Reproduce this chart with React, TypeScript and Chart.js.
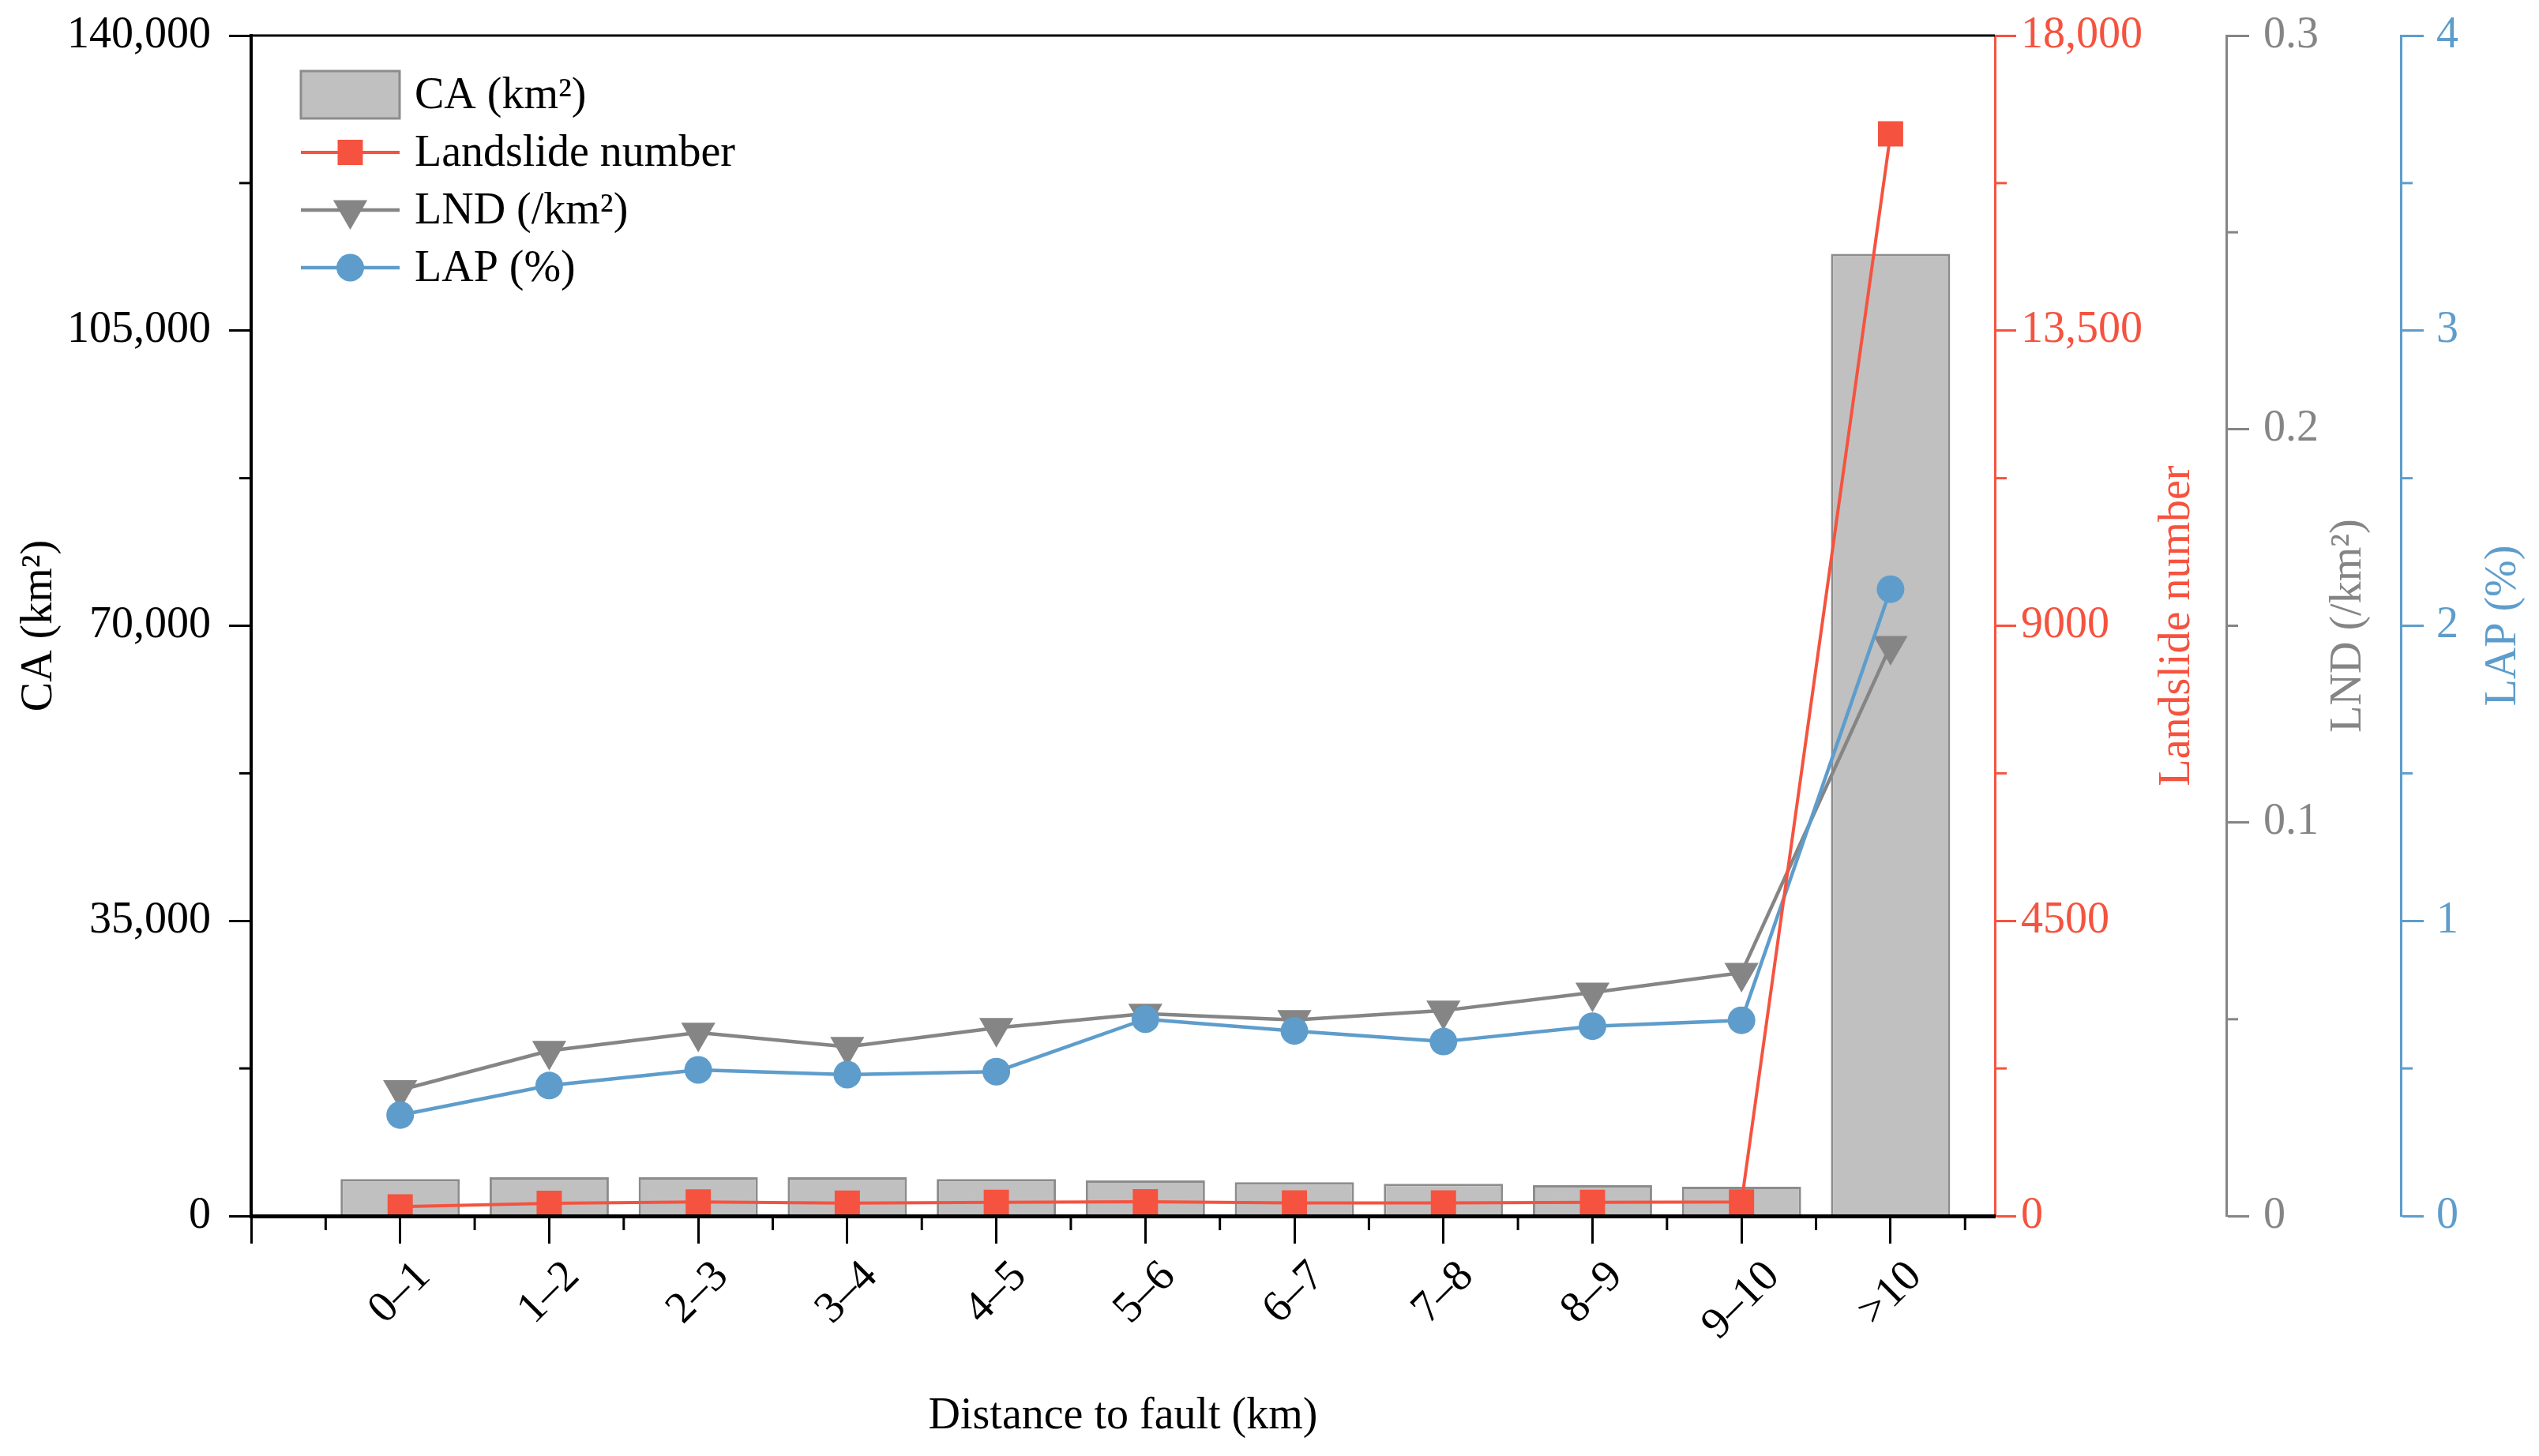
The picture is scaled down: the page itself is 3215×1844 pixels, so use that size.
import React, { useEffect, useRef } from 'react';
import { Chart, registerables } from 'chart.js';

Chart.register(...registerables);

// ---------------- data ----------------
const categories = ['0–1', '1–2', '2–3', '3–4', '4–5', '5–6', '6–7', '7–8', '8–9', '9–10', '>10'];
const caValues = [4370, 4590, 4590, 4590, 4370, 4210, 4000, 3810, 3650, 3460, 114100];
const landslideNumber = [140, 193, 214, 197, 209, 216, 199, 199, 207, 214, 16500];
const lndValues = [0.032, 0.042, 0.0466, 0.043, 0.0478, 0.0514, 0.0498, 0.0522, 0.0568, 0.0618, 0.1449];
const lapValues = [0.342, 0.442, 0.495, 0.479, 0.489, 0.667, 0.627, 0.591, 0.643, 0.663, 2.124];

const caTitle = 'CA (km²)';
const nTitle = 'Landslide number';
const lndTitle = 'LND (/km²)';
const lapTitle = 'LAP (%)';
const xTitle = 'Distance to fault (km)';

// ---------------- style ----------------
const W = 3215;
const H = 1844;
const FONT = '"Liberation Serif", "Times New Roman", serif';
const FS = 56;
const RED = '#F5533F';
const GRAY = '#858585';
const BLUE = '#5E9DCB';
const BAR_FILL = '#C0C0C0';
const BAR_EDGE = '#8C8C8C';

const pts = (vals: number[]) => vals.map((v, i) => ({ x: i + 1, y: v }));

function drawMarker(ctx: CanvasRenderingContext2D, style: string, x: number, y: number, r: number, color: string) {
  ctx.save();
  ctx.fillStyle = color;
  ctx.beginPath();
  if (style === 'rect') {
    const s = Math.SQRT1_2 * r;
    ctx.rect(x - s, y - s, 2 * s, 2 * s);
  } else if (style === 'tri') {
    const a0 = Math.PI;
    for (let k = 0; k < 3; k++) {
      const a = a0 + (k * 2 * Math.PI) / 3;
      const px = x + Math.sin(a) * r;
      const py = y - Math.cos(a) * r;
      if (k === 0) ctx.moveTo(px, py);
      else ctx.lineTo(px, py);
    }
    ctx.closePath();
  } else {
    ctx.arc(x, y, r, 0, Math.PI * 2);
  }
  ctx.fill();
  ctx.restore();
}

const extrasPlugin = {
  id: 'extras',
  afterDraw(chart: any) {
    const ctx: CanvasRenderingContext2D = chart.ctx;
    const ca = chart.chartArea;
    ctx.save();

    // top frame line
    ctx.strokeStyle = '#000';
    ctx.lineWidth = 3;
    ctx.beginPath();
    ctx.moveTo(ca.left - 2, ca.top);
    ctx.lineTo(ca.right, ca.top);
    ctx.stroke();

    // minor ticks on vertical axes
    const vSpecs = [
      { id: 'yCA', color: '#000', dir: -1 },
      { id: 'yN', color: RED, dir: 1 },
      { id: 'yLND', color: GRAY, dir: 1 },
      { id: 'yLAP', color: BLUE, dir: 1 },
    ];
    ctx.lineCap = 'butt';
    ctx.lineWidth = 3;
    for (const sp of vSpecs) {
      const sc = chart.scales[sp.id];
      const ax = sp.dir < 0 ? sc.right : sc.left;
      ctx.strokeStyle = sp.color;
      for (let i = 0; i < sc.ticks.length - 1; i++) {
        const mid = (sc.ticks[i].value + sc.ticks[i + 1].value) / 2;
        const py = sc.getPixelForValue(mid);
        ctx.beginPath();
        ctx.moveTo(ax, py);
        ctx.lineTo(ax + sp.dir * 15, py);
        ctx.stroke();
      }
    }

    // minor ticks on x axis + rotated category labels
    const xs = chart.scales.x;
    ctx.strokeStyle = '#000';
    ctx.lineWidth = 3;
    for (let i = 0; i < xs.ticks.length; i++) {
      const mid = xs.ticks[i].value + 0.5;
      if (mid > xs.max) continue;
      const px = xs.getPixelForValue(mid);
      ctx.beginPath();
      ctx.moveTo(px, xs.top);
      ctx.lineTo(px, xs.top + 18);
      ctx.stroke();
    }
    ctx.font = `${FS}px ${FONT}`;
    ctx.fillStyle = '#000';
    ctx.textAlign = 'center';
    ctx.textBaseline = 'middle';
    categories.forEach((lab, i) => {
      const px = xs.getPixelForValue(i + 1);
      const w = ctx.measureText(lab).width;
      const cy = xs.top + 54 + (w + 40) * 0.3536;
      ctx.save();
      ctx.translate(px, cy);
      ctx.rotate(-Math.PI / 4);
      ctx.fillText(lab, 0, 0);
      ctx.restore();
    });

    // right axis titles (rotated bottom-to-top)
    const midY = (ca.top + ca.bottom) / 2;
    const rTitles = [
      { id: 'yN', text: nTitle, color: RED, off: 62 },
      { id: 'yLND', text: lndTitle, color: GRAY, off: 66 },
      { id: 'yLAP', text: lapTitle, color: BLUE, off: 45 },
    ];
    for (const t of rTitles) {
      const sc = chart.scales[t.id];
      ctx.save();
      ctx.translate(sc.right - t.off, midY);
      ctx.rotate(-Math.PI / 2);
      ctx.fillStyle = t.color;
      ctx.fillText(t.text, 0, 0);
      ctx.restore();
    }

    // legend
    const lx = ca.left + 63;
    const lw = 125;
    const ly0 = ca.top + 75;
    const step = 73;
    ctx.textAlign = 'left';
    ctx.textBaseline = 'middle';
    const ds = chart.data.datasets;
    ds.forEach((d: any, i: number) => {
      const cy = ly0 + i * step;
      if (d.type === 'bar') {
        ctx.fillStyle = BAR_FILL;
        ctx.fillRect(lx, cy - 30, lw, 60);
        ctx.strokeStyle = BAR_EDGE;
        ctx.lineWidth = 3;
        ctx.strokeRect(lx, cy - 30, lw, 60);
      } else {
        ctx.strokeStyle = d.borderColor;
        ctx.lineWidth = d.borderWidth;
        ctx.beginPath();
        ctx.moveTo(lx, cy);
        ctx.lineTo(lx + lw, cy);
        ctx.stroke();
        const st = d.pointStyle === 'rect' ? 'rect' : d.pointStyle === 'triangle' ? 'tri' : 'circle';
        drawMarker(ctx, st, lx + lw / 2, cy, d.pointRadius, d.backgroundColor);
      }
      ctx.fillStyle = '#000';
      ctx.fillText(d.label, lx + lw + 19, cy + 2);
    });

    ctx.restore();
  },
};

const fmtComma = (v: number) => (v >= 10000 ? v.toLocaleString('en-US') : String(v));

const fixV = (width: number) => (s: any) => {
  s.width = width;
  s.paddingTop = 0;
  s.paddingBottom = 0;
};

export default function App() {
  const ref = useRef<HTMLCanvasElement>(null);

  useEffect(() => {
    const canvas = ref.current;
    if (!canvas) return;
    document.body.style.margin = '0';
    Chart.defaults.font.family = FONT;

    const font = { family: FONT, size: FS };

    const chart = new Chart(canvas, {
      type: 'bar',
      data: {
        datasets: [
          {
            type: 'bar',
            label: caTitle,
            data: pts(caValues),
            xAxisID: 'x',
            yAxisID: 'yCA',
            backgroundColor: BAR_FILL,
            borderColor: BAR_EDGE,
            borderWidth: 3,
            barPercentage: 0.8,
            categoryPercentage: 1,
            order: 4,
          } as any,
          {
            type: 'line',
            label: nTitle,
            data: pts(landslideNumber),
            xAxisID: 'x',
            yAxisID: 'yN',
            borderColor: RED,
            backgroundColor: RED,
            borderWidth: 4,
            pointStyle: 'rect',
            pointRadius: 22.6,
            pointBorderWidth: 0,
            tension: 0,
            order: 1,
          } as any,
          {
            type: 'line',
            label: lndTitle,
            data: pts(lndValues),
            xAxisID: 'x',
            yAxisID: 'yLND',
            borderColor: GRAY,
            backgroundColor: GRAY,
            borderWidth: 4.5,
            pointStyle: 'triangle',
            pointRotation: 180,
            pointRadius: 25,
            pointBorderWidth: 0,
            tension: 0,
            order: 3,
          } as any,
          {
            type: 'line',
            label: lapTitle,
            data: pts(lapValues),
            xAxisID: 'x',
            yAxisID: 'yLAP',
            borderColor: BLUE,
            backgroundColor: BLUE,
            borderWidth: 4.5,
            pointStyle: 'circle',
            pointRadius: 17.5,
            pointBorderWidth: 0,
            tension: 0,
            order: 2,
          } as any,
        ],
      },
      options: {
        responsive: false,
        maintainAspectRatio: false,
        devicePixelRatio: 1,
        animation: false,
        events: [],
        layout: { padding: { top: 45, left: 0, right: 0, bottom: 0 } },
        plugins: {
          legend: { display: false },
          tooltip: { enabled: false },
        },
        scales: {
          x: {
            type: 'linear',
            position: 'bottom',
            min: 0,
            max: 11.7,
            offset: false,
            afterBuildTicks: (s: any) => {
              s.ticks = [0, ...categories.map((_, i) => i + 1)].map((v) => ({ value: v }));
            },
            afterFit: (s: any) => {
              s.height = 304;
              s.paddingLeft = 0;
              s.paddingRight = 0;
            },
            ticks: { display: false },
            grid: {
              display: true,
              offset: false,
              drawOnChartArea: false,
              drawTicks: true,
              tickLength: 35,
              tickWidth: 3,
              tickColor: '#000',
            },
            border: { display: true, color: '#000', width: 5, z: 1 },
            title: {
              display: true,
              text: xTitle,
              color: '#000',
              font,
              padding: { top: 0, bottom: 16 },
            },
          },
          yCA: {
            type: 'linear',
            position: 'left',
            min: 0,
            max: 140000,
            afterFit: fixV(318),
            ticks: {
              stepSize: 35000,
              padding: 23,
              color: '#000',
              font,
              callback: (v: any) => fmtComma(Number(v)),
            },
            grid: { drawOnChartArea: false, tickLength: 28, tickWidth: 3, tickColor: '#000' },
            border: { color: '#000', width: 4, z: 1 },
            title: { display: true, text: caTitle, color: '#000', font, padding: { top: 17, bottom: 0 } },
          },
          yN: {
            type: 'linear',
            position: 'right',
            weight: 0,
            min: 0,
            max: 18000,
            afterFit: fixV(293),
            ticks: {
              stepSize: 4500,
              padding: 6,
              color: RED,
              font,
              callback: (v: any) => fmtComma(Number(v)),
            },
            grid: { drawOnChartArea: false, tickLength: 27, tickWidth: 3, tickColor: RED },
            border: { color: RED, width: 3 },
          },
          yLND: {
            type: 'linear',
            position: 'right',
            weight: 1,
            min: 0,
            max: 0.3,
            afterFit: fixV(221),
            ticks: {
              stepSize: 0.1,
              padding: 18,
              color: GRAY,
              font,
              callback: (v: any) => String(Math.round(Number(v) * 10) / 10),
            },
            grid: { drawOnChartArea: false, tickLength: 29, tickWidth: 3, tickColor: GRAY },
            border: { color: GRAY, width: 3 },
          },
          yLAP: {
            type: 'linear',
            position: 'right',
            weight: 2,
            min: 0,
            max: 4,
            afterFit: fixV(175),
            ticks: {
              stepSize: 1,
              padding: 16,
              color: BLUE,
              font,
              callback: (v: any) => String(Number(v)),
            },
            grid: { drawOnChartArea: false, tickLength: 29, tickWidth: 3, tickColor: BLUE },
            border: { color: BLUE, width: 3 },
          },
        },
      } as any,
      plugins: [extrasPlugin],
    });

    return () => chart.destroy();
  }, []);

  return (
    <div style={{ position: 'fixed', left: 0, top: 0, width: W, height: H, background: '#fff' }}>
      <canvas ref={ref} width={W} height={H} style={{ width: W, height: H, display: 'block' }} />
    </div>
  );
}
